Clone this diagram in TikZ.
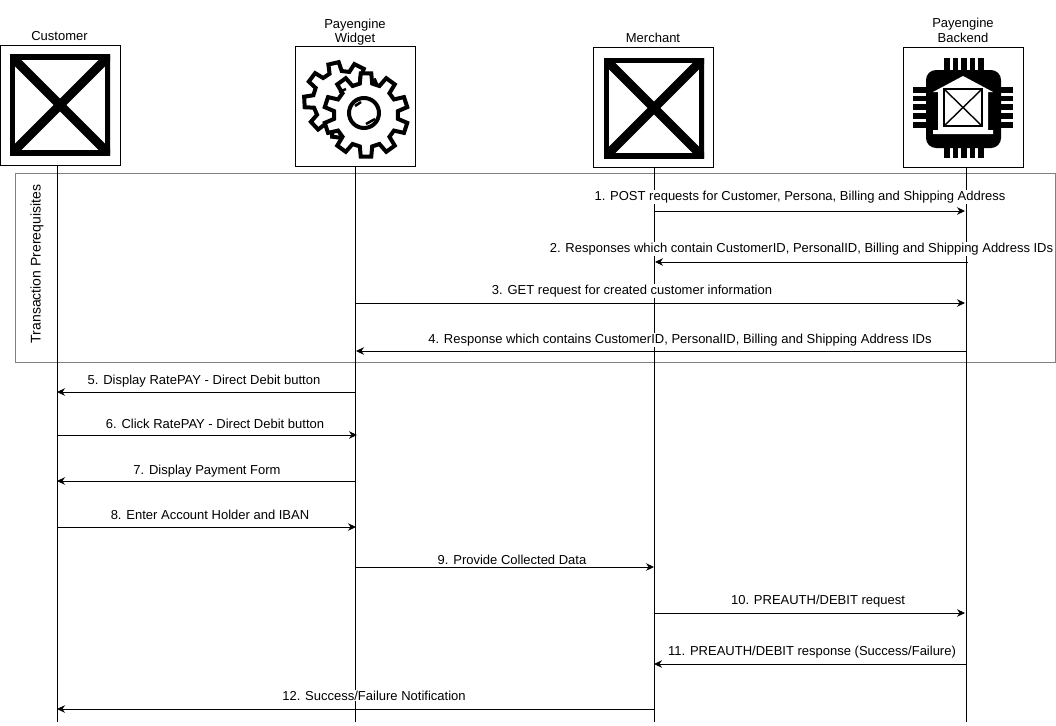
\documentclass[tikz,border=0pt]{standalone}
\usepackage{fontspec}
\setmainfont{Liberation Sans}
\usetikzlibrary{arrows.meta,positioning,calc}

\newcommand{\gearpath}[5]{% centre x, y, outer radius, inner radius, teeth
  \pgfmathsetmacro{\gearstep}{360/#5}
  \draw[gearline] ($(#1,#2)+({-0.31*\gearstep+#5+8}:#4)$)
    \foreach \i in {1,...,#5} {
      -- ($(#1,#2)+({(\i-1.31)*\gearstep+#5+8}:#4)$)
      -- ($(#1,#2)+({(\i-1.2)*\gearstep+#5+8}:#3)$)
      -- ($(#1,#2)+({(\i-0.8)*\gearstep+#5+8}:#3)$)
      -- ($(#1,#2)+({(\i-0.69)*\gearstep+#5+8}:#4)$)
    } -- cycle;
}

\tikzset{
  actor/.style={draw, fill=white, minimum width=120pt, minimum height=120pt, inner sep=0pt},
  actorlabel/.style={align=center, inner sep=1pt, font=\fontsize{13}{14.5}\selectfont},
  msg/.style={-{Stealth[length=8pt,width=7.5pt]}, line width=0.8pt},
  msglabel/.style={fill=white, inner sep=1pt, yshift=-0.7pt, font=\fontsize{13}{14.5}\selectfont},
  lifeline/.style={line width=0.8pt},
  gearline/.style={draw=black, fill=white, line width=4pt, line join=miter},
  pics/xicon/.style={code={
    \clip (0,0) rectangle (100,100);
    \draw[line width=9pt] (0,0) -- (100,100) (0,100) -- (100,0);
    \draw[line width=10pt] (0,0) rectangle (100,100);
  }}
}

\begin{document}
\begin{tikzpicture}[x=1pt, y=-1pt, line width=0.8pt]
\useasboundingbox (0,0) rectangle (1056,725);

\node[draw=black!50, minimum width=1040pt, minimum height=189pt, inner sep=0pt] (prereq) at (535,267.5) {};
\node[rotate=90, inner sep=1pt, font=\fontsize{14}{16}\selectfont] (prereqlabel) at (37,264) {Transaction Prerequisites};

% actors
\node[actor] (customer) at (60.5,105) {};
\node[actor] (widget) at (355,106.5) {};
\node[actor] (merchant) at (653,107) {};
\node[actor] (backend) at (963,107) {};
\node[actorlabel, above=2.5pt of customer, xshift=-1pt] (customerlabel) {Customer};
\node[actorlabel, above=-0.5pt of widget] (widgetlabel) {Payengine\\Widget};
\node[actorlabel, above=2.5pt of merchant] (merchantlabel) {Merchant};
\node[actorlabel, above=3pt of backend] (backendlabel) {Payengine\\Backend};

% icons
\pic at (10,55) {xicon};
\pic at (604,58) {xicon};

\gearpath{342}{100}{38}{29}{9}
\gearpath{366}{115}{42}{32}{10}
\draw[line width=4pt] (364,113) circle (15);
\draw[line width=2.5pt] (339,92) -- (346,89);
\draw[line width=2.5pt] (355,106) -- (361,102);
\draw[line width=2.5pt] (366,124) -- (375,119);

\fill[rounded corners=10pt] (926,70) rectangle (1001,148);
\foreach \px in {947,955.5,964,972.5,981} {
  \fill (\px-2.8,58) rectangle (\px+2.8,158);
}
\foreach \py in {90,98.5,107,116,125} {
  \fill (913,\py-2.8) rectangle (1013,\py+2.8);
}
\fill[white] (963,76) -- (993,92) -- (988,92) -- (988,130) -- (993,130) -- (993,134)
  -- (933,134) -- (933,130) -- (938,130) -- (938,92) -- (933,92) -- cycle;
\draw[line width=2pt] (944,89) rectangle (982,126);
\draw[line width=1.4pt] (944,89) -- (982,126) (944,126) -- (982,89);

% lifelines
\coordinate (customerend) at (57,722);
\coordinate (widgetend) at (355,722);
\coordinate (merchantend) at (654,722);
\coordinate (backendend) at (966,722);
\draw[lifeline] (customerend |- customer.south) -- (customerend);
\draw[lifeline] (widgetend |- widget.south) -- (widgetend);
\draw[lifeline] (merchantend |- merchant.south) -- (merchantend);
\draw[lifeline] (backendend |- backend.south) -- (backendend);

% messages
\coordinate (m1a) at (654,211);  \coordinate (m1b) at (965,211);
\coordinate (m2a) at (968,262);  \coordinate (m2b) at (655,262);
\coordinate (m3a) at (355,303);  \coordinate (m3b) at (965,303);
\coordinate (m4a) at (966,351);  \coordinate (m4b) at (356,351);
\coordinate (m5a) at (355,392);  \coordinate (m5b) at (57,392);
\coordinate (m6a) at (57,435);   \coordinate (m6b) at (357,435);
\coordinate (m7a) at (355,481);  \coordinate (m7b) at (57,481);
\coordinate (m8a) at (57,527);   \coordinate (m8b) at (356,527);
\coordinate (m9a) at (355,567);  \coordinate (m9b) at (654,567);
\coordinate (m10a) at (654,613); \coordinate (m10b) at (965,613);
\coordinate (m11a) at (966,664); \coordinate (m11b) at (654,664);
\coordinate (m12a) at (654,709); \coordinate (m12b) at (57,709);

\draw[msg] (m1a) -- (m1b);
\draw[msg] (m2a) -- (m2b);
\draw[msg] (m3a) -- (m3b);
\draw[msg] (m4a) -- (m4b);
\draw[msg] (m5a) -- (m5b);
\draw[msg] (m6a) -- (m6b);
\draw[msg] (m7a) -- (m7b);
\draw[msg] (m8a) -- (m8b);
\draw[msg] (m9a) -- (m9b);
\draw[msg] (m10a) -- (m10b);
\draw[msg] (m11a) -- (m11b);
\draw[msg] (m12a) -- (m12b);

\node[msglabel] (l1) at (800,196) {1. POST requests for Customer, Persona, Billing and Shipping Address};
\node[msglabel] (l2) at (801.5,248) {2. Responses which contain CustomerID, PersonalID, Billing and Shipping Address IDs};
\node[msglabel] (l3) at (632,290) {3. GET request for created customer information};
\node[msglabel] (l4) at (680,339) {4. Response which contains CustomerID, PersonalID, Billing and Shipping Address IDs};
\node[msglabel] (l5) at (204,380) {5. Display RatePAY - Direct Debit button};
\node[msglabel] (l6) at (215,423) {6. Click RatePAY - Direct Debit button};
\node[msglabel] (l7) at (207,470) {7. Display Payment Form};
\node[msglabel] (l8) at (210,514) {8. Enter Account Holder and IBAN};
\node[msglabel] (l9) at (512,559) {9. Provide Collected Data};
\node[msglabel] (l10) at (818,600) {10. PREAUTH/DEBIT request};
\node[msglabel] (l11) at (812,651) {11. PREAUTH/DEBIT response (Success/Failure)};
\node[msglabel] (l12) at (374,695) {12. Success/Failure Notification};
\end{tikzpicture}
\end{document}
